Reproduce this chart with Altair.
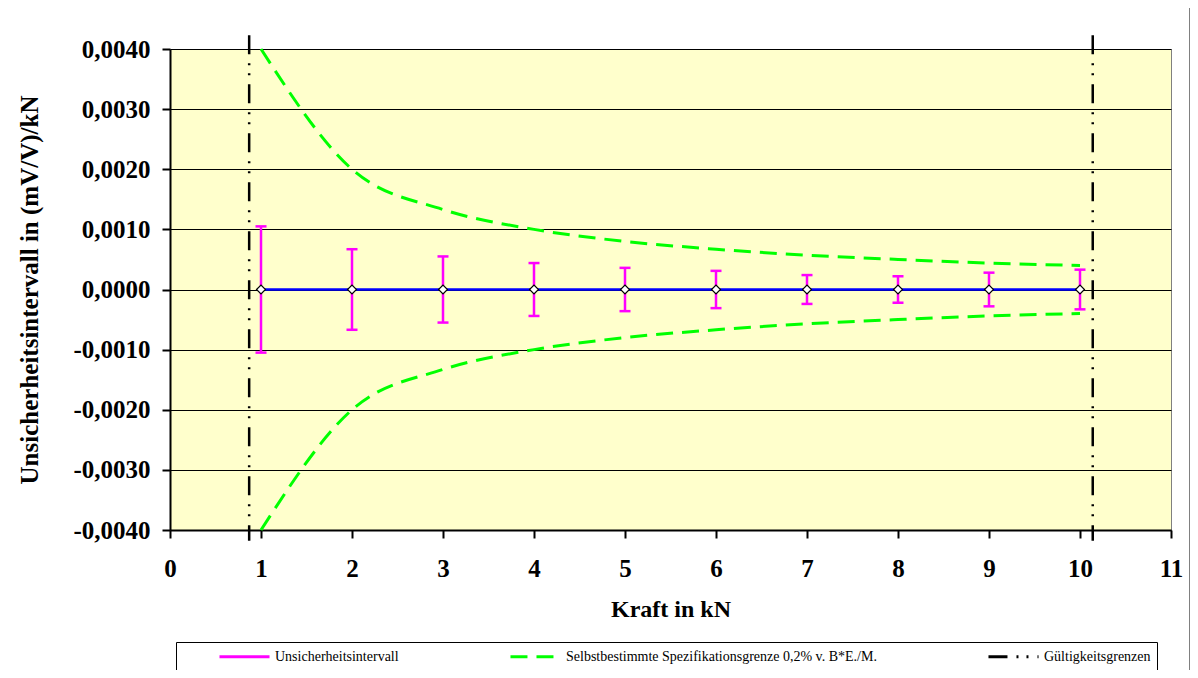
import altair as alt
import pandas as pd

# ---- data ----
kraft = [1, 2, 3, 4, 5, 6, 7, 8, 9, 10]
mittelwert = [0, 0, 0, 0, 0, 0, 0, 0, 0, 0]
unsicherheit = [0.00105, 0.00067, 0.00055, 0.00044, 0.00036, 0.00031, 0.00024, 0.00022, 0.00028, 0.00033]
spez_grenze = [0.0040, 0.0020, 0.00133, 0.0010, 0.0008, 0.00067, 0.00057, 0.0005, 0.00044, 0.0004]
gueltig_x = [0.87, 10.14]
gueltig_oben = 0.00423
gueltig_unten = -0.00418
y_ticks = [-0.004, -0.003, -0.002, -0.001, 0.0, 0.001, 0.002, 0.003, 0.004]
x_ticks = [0, 1, 2, 3, 4, 5, 6, 7, 8, 9, 10, 11]
series = ["Unsicherheitsintervall",
          "Selbstbestimmte Spezifikationsgrenze 0,2% v. B*E./M.",
          "Gültigkeitsgrenzen"]
series_colors = ["#FF00FF", "#00FF00", "#000000"]
series_dash = [[1, 0], [17, 9], [19, 9, 2, 8, 2, 9]]

FONT = "Liberation Serif"

# ---- tables ----
df_err = pd.DataFrame({
    "x": kraft,
    "y": [m + u for m, u in zip(mittelwert, unsicherheit)],
    "y2": [m - u for m, u in zip(mittelwert, unsicherheit)],
    "series": series[0],
})
df_caps = pd.DataFrame({
    "x": kraft + kraft,
    "y": [m + u for m, u in zip(mittelwert, unsicherheit)] + [m - u for m, u in zip(mittelwert, unsicherheit)],
})
df_mid = pd.DataFrame({"x": kraft, "y": mittelwert})
df_spez = pd.DataFrame({
    "x": kraft + kraft,
    "y": spez_grenze + [-v for v in spez_grenze],
    "side": ["oben"] * len(kraft) + ["unten"] * len(kraft),
    "series": series[1],
})
df_gueltig = pd.DataFrame({
    "x": gueltig_x,
    "y": [gueltig_oben] * len(gueltig_x),
    "y2": [gueltig_unten] * len(gueltig_x),
    "series": series[2],
})

x_enc = alt.X("x:Q", scale=alt.Scale(domain=[0, 11], nice=False, zero=False),
              axis=alt.Axis(values=x_ticks, format="d", title="Kraft in kN", grid=False,
                            labelFlush=False,
                            labelFont=FONT, labelFontSize=25, labelFontWeight="bold",
                            labelColor="black", labelPadding=18,
                            titleFont=FONT, titleFontSize=24, titleFontWeight="bold",
                            titleColor="black", titlePadding=16,
                            domainColor="black", domainWidth=2,
                            tickColor="black", tickWidth=2, tickSize=8))
y_enc = alt.Y("y:Q", scale=alt.Scale(domain=[-0.004, 0.004], nice=False, zero=False),
              axis=alt.Axis(values=y_ticks, title="Unsicherheitsintervall in (mV/V)/kN",
                            labelExpr="replace(replace(format(datum.value, '.4f'), '.', ','), '\u2212', '-')",
                            labelFlush=False,
                            grid=True, gridColor="black", gridWidth=1, gridOpacity=1,
                            labelFont=FONT, labelFontSize=25, labelFontWeight="bold",
                            labelColor="black", labelPadding=12,
                            titleFont=FONT, titleFontSize=25, titleFontWeight="bold",
                            titleColor="black", titlePadding=30,
                            domainColor="black", domainWidth=2,
                            tickColor="black", tickWidth=2, tickSize=8))

legend = alt.Legend(title=None, orient="none", legendX=6, legendY=593,
                    direction="horizontal", symbolType="M4.14,0H11.29", symbolSize=196,
                    symbolStrokeWidth=3, labelFont=FONT, labelFontSize=14,
                    labelColor="black", labelOffset=76, columnPadding=74, padding=6,
                    strokeColor="black", fillColor="white", labelLimit=600)
color_enc = alt.Color("series:N", scale=alt.Scale(domain=series, range=series_colors), legend=legend)
dash_enc = alt.StrokeDash("series:N", scale=alt.Scale(domain=series, range=series_dash), legend=legend)

frame = alt.Chart(pd.DataFrame({"a": [0]})).mark_rect(
    fill=None, stroke="black", strokeWidth=1).encode(
    x=alt.value(-163), x2=alt.value(1020), y=alt.value(-42), y2=alt.value(627))

spez = alt.Chart(df_spez).mark_line(strokeWidth=3, interpolate="monotone").encode(
    x=x_enc, y=y_enc, detail="side:N", color=color_enc, strokeDash=dash_enc)

gueltig = alt.Chart(df_gueltig).mark_rule(strokeWidth=2.5).encode(
    x="x:Q", y="y:Q", y2="y2:Q", color=color_enc, strokeDash=dash_enc)

err = alt.Chart(df_err).mark_rule(strokeWidth=2.5).encode(
    x="x:Q", y="y:Q", y2="y2:Q", color=color_enc, strokeDash=dash_enc)

caps = alt.Chart(df_caps).mark_tick(orient="horizontal", size=11, thickness=2.5,
                                    color="#FF00FF", opacity=1).encode(x="x:Q", y="y:Q")

mid = alt.Chart(df_mid).mark_line(color="#0000FF", strokeWidth=2.5).encode(x="x:Q", y="y:Q")

pts = alt.Chart(df_mid).mark_point(shape="diamond", filled=True, fill="white",
                                   stroke="black", strokeWidth=1.2, size=80, opacity=1).encode(
    x="x:Q", y="y:Q")

chart = alt.layer(spez, gueltig, err, caps, mid, pts, frame).properties(
    width=1001, height=481,
    autosize=alt.AutoSizeParams(type="none"),
    padding={"left": 162, "top": 41, "right": 19, "bottom": 140},
    background="white",
).configure_view(fill="#FFFFCC", stroke="#808080", strokeWidth=1)

chart.save("out.html", embed_options={"renderer": "svg", "actions": False})
